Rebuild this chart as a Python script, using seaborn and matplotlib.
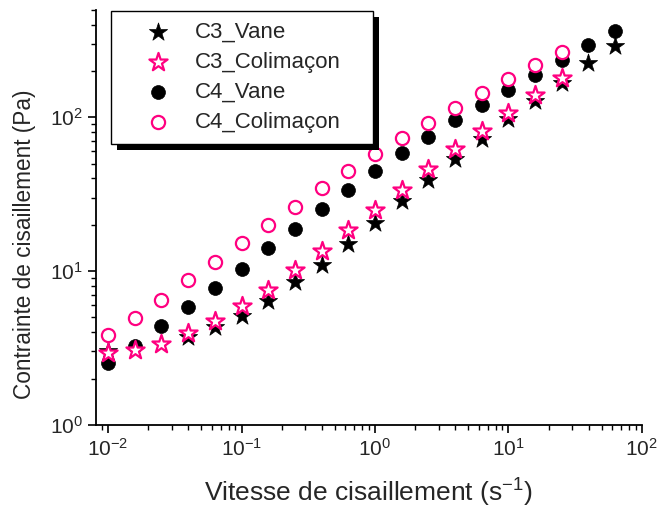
import matplotlib
matplotlib.use("Agg")
import matplotlib.pyplot as plt
import matplotlib.patheffects as pe
import seaborn as sns
import pandas as pd

# shear rates (s-1), 5 points per decade
shear_rate = [0.01, 0.0158, 0.0251, 0.0398, 0.0631, 0.1, 0.158, 0.251, 0.398, 0.631,
              1.0, 1.58, 2.51, 3.98, 6.31, 10.0, 15.8, 25.1, 39.8, 63.1]

# shear stress (Pa)
c3_vane = [3.0, 3.07, 3.35, 3.73, 4.33, 5.08, 6.36, 8.45, 11.0, 14.9,
           20.6, 28.5, 38.9, 53.8, 72.6, 97.0, 127.7, 168.0, 225.0, 291.0]
c3_colimacon = [2.93, 3.05, 3.37, 3.96, 4.76, 5.9, 7.57, 10.1, 13.5, 18.4,
                24.9, 33.6, 45.8, 61.9, 81.4, 107.0, 139.0, 181.0]
c4_vane = [2.52, 3.27, 4.37, 5.81, 7.77, 10.3, 14.2, 18.9, 25.5, 33.8,
           44.6, 58.2, 74.8, 96.1, 120.0, 150.6, 188.6, 235.0, 294.0, 365.0]
c4_colimacon = [3.86, 4.96, 6.52, 8.8, 11.4, 15.3, 19.9, 26.2, 34.5, 45.0,
                57.4, 73.8, 92.3, 115.6, 144.8, 177.0, 218.0, 267.0]

labels = ["C3_Vane", "C3_Colimaçon", "C4_Vane", "C4_Colimaçon"]
PINK = "#FF0080"

sns.set_style("ticks")
plt.rcParams['font.family'] = ['Liberation Sans', 'DejaVu Sans']
plt.rcParams['mathtext.fontset'] = 'custom'
plt.rcParams['mathtext.rm'] = 'Liberation Sans'
plt.rcParams['mathtext.it'] = 'Liberation Sans'

fig = plt.figure(figsize=(6.57, 5.15), dpi=100)
ax = fig.add_axes([0.146, 0.175, 0.831, 0.806])

df_c3v = pd.DataFrame({"x": shear_rate, "y": c3_vane})
df_c3c = pd.DataFrame({"x": shear_rate[:len(c3_colimacon)], "y": c3_colimacon})
df_c4v = pd.DataFrame({"x": shear_rate, "y": c4_vane})
df_c4c = pd.DataFrame({"x": shear_rate[:len(c4_colimacon)], "y": c4_colimacon})

# draw order: black first, pink (white-filled) on top
sns.scatterplot(data=df_c4v, x="x", y="y", ax=ax, marker="o", s=100,
                color="black", edgecolor="black", linewidth=0.5, label=labels[2], zorder=3)
sns.scatterplot(data=df_c3v, x="x", y="y", ax=ax, marker="*", s=190,
                color="black", edgecolor="black", linewidth=0.5, label=labels[0], zorder=3)
sns.scatterplot(data=df_c4c, x="x", y="y", ax=ax, marker="o", s=90,
                color="white", edgecolor=PINK, linewidth=1.6, label=labels[3], zorder=4)
sns.scatterplot(data=df_c3c, x="x", y="y", ax=ax, marker="*", s=190,
                color="white", edgecolor=PINK, linewidth=1.6, label=labels[1], zorder=4)

ax.set_xscale("log")
ax.set_yscale("log")
ax.set_xlim(0.0081, 100)
ax.set_ylim(1, 500)

sns.despine(ax=ax)
for side in ["left", "bottom"]:
    ax.spines[side].set_linewidth(1.3)
    ax.spines[side].set_color("black")
ax.tick_params(which="major", direction="out", length=6, width=1.2, labelsize=15, color="black")
ax.tick_params(which="minor", direction="out", length=3.5, width=1.0, color="black")

ax.set_xlabel("Vitesse de cisaillement (s$^{-1}$)", fontsize=19, labelpad=12)
ax.set_ylabel("Contrainte de cisaillement (Pa)", fontsize=16.3)
ax.yaxis.set_label_coords(-0.11, 0.436)

handles, labs = ax.get_legend_handles_labels()
order = [labs.index(l) for l in labels]
leg = ax.legend([handles[i] for i in order], [labs[i] for i in order],
                loc="upper left", bbox_to_anchor=(0.027, 0.997, 0.48, 0), mode="expand",
                fontsize=16, frameon=True, fancybox=False, framealpha=1,
                edgecolor="black", borderpad=0.5, handlelength=3.3,
                handletextpad=0.0, labelspacing=0.4, borderaxespad=0)
leg.get_frame().set_linewidth(1.0)
leg.get_frame().set_path_effects([
    pe.SimplePatchShadow(offset=(4.5, -4.5), shadow_rgbFace="black", alpha=1),
    pe.Normal()])

fig.savefig("out.png", dpi=100)
